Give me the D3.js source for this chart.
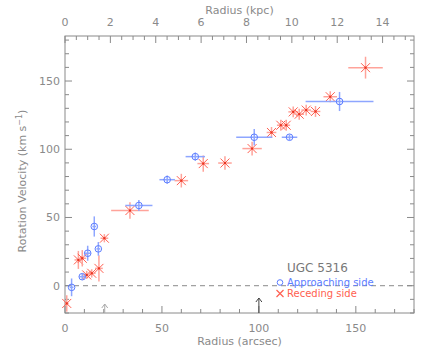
<!DOCTYPE html>
<html><head><meta charset="utf-8">
<script src="https://cdn.jsdelivr.net/npm/d3@7"></script>
<style>body{margin:0;background:#fff}text{font-family:"DejaVu Sans",sans-serif}</style>
</head><body>
<svg id="c" width="436" height="349"></svg>
<script>
// Approaching side (blue circles)
const approachR    = [3.4, 8.9, 11.7, 15.1, 17.2, 38.1, 52.7, 67.2, 97.6, 115.8, 141.6];
const approachV    = [-1.2, 6.6, 23.8, 43.4, 27.0, 58.8, 77.7, 94.6, 108.8, 108.8, 135.0];
const approachRErr = [1, 1.5, 1.5, 1, 1, 7, 4, 5, 9.3, 4, 17.5];
const approachVErr = [6.5, 2, 5.5, 7.4, 5, 4, 3, 3, 6, 2, 7];
// Receding side (red crosses)
const recedeR    = [0.9, 6.9, 8.9, 11.2, 13.8, 17.5, 20.3, 33.5, 60, 71.3, 82.5, 96.5, 106.5, 111.3, 114.1, 117.7, 120.8, 124.4, 129.2, 136.8, 155];
const recedeV    = [-13, 18.9, 20.1, 7.9, 9.1, 12.7, 34.8, 55.1, 77, 89.5, 89.9, 100.5, 112.3, 117.6, 117.6, 127.4, 125.7, 128.7, 127.7, 138.5, 159.8];
const recedeRErr = [1, 2, 2, 2, 2, 2, 2, 9.7, 3.5, 3, 3.5, 5, 2.5, 2, 2, 2.5, 2.5, 2.5, 2.5, 3.5, 8.9];
const recedeVErr = [6, 6.6, 6, 3, 3, 9.6, 3, 6, 5, 6, 5, 5, 4, 4, 4, 4, 4, 4, 4, 4, 8];
// axes
const xDomain = [0, 180];
const kpcPerArcsec = 1 / 11.7;
const yDomain = [-20, 183];
const xTicks = [0, 50, 100, 150];
const yTicks = [0, 50, 100, 150];
const kpcTicks = [0, 2, 4, 6, 8, 10, 12, 14];
const arrowsR = [20.5, 100];
const title = "UGC 5316";
const legendLabels = ["Approaching side", "Receding side"];

const L = 65, R = 414, T = 36, B = 313;
const gray = "#8a8a8a", blue = "#5b7cff", blueE = "#8ea6ff", red = "#ff5f50", redE = "#ffa39a";
const svg = d3.select("#c");
const x = d3.scaleLinear().domain(xDomain).range([L, R]);
const y = d3.scaleLinear().domain(yDomain).range([B, T]);
const xk = d3.scaleLinear().domain([0, xDomain[1] * kpcPerArcsec]).range([L, R]);

function ticks(step, lo, hi) { const a = []; for (let v = lo; v <= hi + 1e-9; v += step) a.push(+v.toFixed(4)); return a; }

// frame
svg.append("rect").attr("x", L).attr("y", T).attr("width", R - L).attr("height", B - T)
  .attr("fill", "none").attr("stroke", gray).attr("stroke-width", 1);

const g = svg.append("g").attr("stroke", gray).attr("stroke-width", 1);
ticks(10, 0, 180).forEach(v => {
  const len = v % 50 === 0 ? 7 : 4;
  g.append("line").attr("x1", x(v)).attr("x2", x(v)).attr("y1", B).attr("y2", B - len);
});
ticks(0.5, 0, xk.domain()[1]).forEach(v => {
  const len = Math.abs(v % 2) < 1e-6 ? 7 : 4;
  g.append("line").attr("x1", xk(v)).attr("x2", xk(v)).attr("y1", T).attr("y2", T + len);
});
ticks(10, -20, 180).forEach(v => {
  const len = v % 50 === 0 ? 7 : 4;
  g.append("line").attr("x1", L).attr("x2", L + len).attr("y1", y(v)).attr("y2", y(v));
  g.append("line").attr("x1", R).attr("x2", R - len).attr("y1", y(v)).attr("y2", y(v));
});

const txt = (xx, yy, s, anchor, col, size) => svg.append("text").attr("x", xx).attr("y", yy)
  .attr("text-anchor", anchor || "middle").attr("fill", col || gray).attr("font-size", size || 11).text(s);

xTicks.forEach(v => txt(x(v), 332, v));
kpcTicks.forEach(v => txt(xk(v), 26, v));
yTicks.forEach(v => txt(L - 5, y(v) + 4, v, "end"));
txt((L + R) / 2, 345, "Radius (arcsec)");
txt((L + R) / 2, 14, "Radius (kpc)");
const yl = svg.append("text").attr("transform", `translate(26,181) rotate(-90)`)
  .attr("text-anchor", "middle").attr("fill", gray).attr("font-size", 11);
yl.append("tspan").text("Rotation Velocity (km s");
yl.append("tspan").attr("dy", -4).attr("font-size", 8).text("−1");
yl.append("tspan").attr("dy", 4).text(")");

// zero line
svg.append("line").attr("x1", L).attr("x2", R).attr("y1", y(0)).attr("y2", y(0))
  .attr("stroke", gray).attr("stroke-dasharray", "5,4");

// arrows
arrowsR.forEach((r, i) => {
  const len = i === 0 ? 9 : 15, col = i === 0 ? "#aaa" : "#444";
  const ax = x(r), top = B - len;
  svg.append("path").attr("d", `M${ax},${B}L${ax},${top}M${ax - 3},${top + 4}L${ax},${top}L${ax + 3},${top + 4}`)
    .attr("stroke", col).attr("fill", "none").attr("stroke-width", 1);
});

// receding points
recedeR.forEach((r, i) => {
  const cx = x(r), cy = y(recedeV[i]);
  svg.append("line").attr("x1", x(r - recedeRErr[i])).attr("x2", x(r + recedeRErr[i])).attr("y1", cy).attr("y2", cy).attr("stroke", redE).attr("stroke-width", 1.5);
  svg.append("line").attr("x1", cx).attr("x2", cx).attr("y1", y(recedeV[i] - recedeVErr[i])).attr("y2", y(recedeV[i] + recedeVErr[i])).attr("stroke", redE).attr("stroke-width", 1.5);
  const s = 4.5;
  svg.append("path").attr("d", `M${cx - s},${cy - s}L${cx + s},${cy + s}M${cx - s},${cy + s}L${cx + s},${cy - s}`).attr("stroke", red).attr("stroke-width", 1);
  svg.append("rect").attr("x", cx - 1).attr("y", cy - 1).attr("width", 2).attr("height", 2).attr("fill", "#e8321e");
});
// approaching points
approachR.forEach((r, i) => {
  const cx = x(r), cy = y(approachV[i]);
  svg.append("line").attr("x1", x(r - approachRErr[i])).attr("x2", x(r + approachRErr[i])).attr("y1", cy).attr("y2", cy).attr("stroke", blueE).attr("stroke-width", 1.5);
  svg.append("line").attr("x1", cx).attr("x2", cx).attr("y1", y(approachV[i] - approachVErr[i])).attr("y2", y(approachV[i] + approachVErr[i])).attr("stroke", blueE).attr("stroke-width", 1.5);
  svg.append("circle").attr("cx", cx).attr("cy", cy).attr("r", 3.3).attr("fill", "none").attr("stroke", blue).attr("stroke-width", 1);
});

// legend
txt(287, 272, title, "start", "#777", 12);
svg.append("circle").attr("cx", 280).attr("cy", 282.5).attr("r", 2.8).attr("fill", "none").attr("stroke", blue);
txt(287, 285.5, legendLabels[0], "start", blue, 10);
svg.append("path").attr("d", "M276.5,290L283.5,297M276.5,297L283.5,290").attr("fill", "none").style("stroke", red).attr("stroke-width", 1.2);
txt(287, 297, legendLabels[1], "start", red, 10);
</script>
</body></html>
